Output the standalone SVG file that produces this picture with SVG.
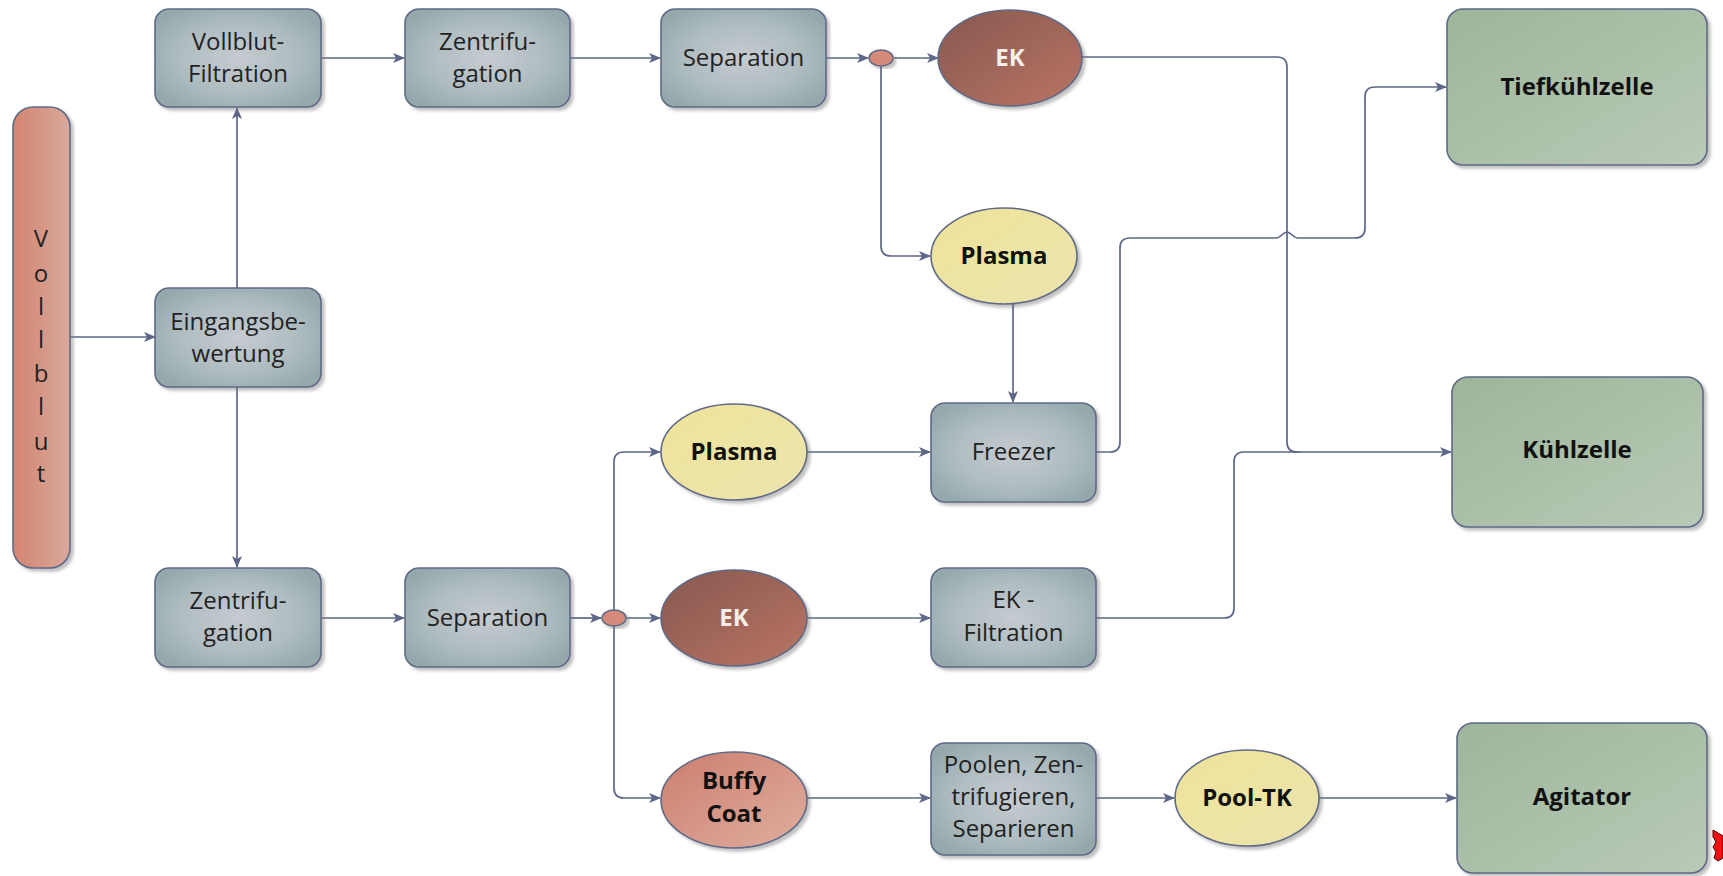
<svg xmlns="http://www.w3.org/2000/svg" width="1723" height="876" viewBox="0 0 1723 876">
<defs>
<radialGradient id="gGrey" cx="50%" cy="50%" r="60%">
<stop offset="0" stop-color="#c6cbd0"/>
<stop offset="0.6" stop-color="#aebcc0"/>
<stop offset="1" stop-color="#95a9ad"/>
</radialGradient>
<linearGradient id="gGreen" x1="0" y1="0" x2="1" y2="1">
<stop offset="0" stop-color="#9db59a"/>
<stop offset="1" stop-color="#b9cab7"/>
</linearGradient>
<linearGradient id="gEK" x1="0" y1="0" x2="1" y2="1">
<stop offset="0" stop-color="#87584f"/>
<stop offset="1" stop-color="#b97464"/>
</linearGradient>
<linearGradient id="gPlasma" x1="0" y1="0" x2="1" y2="1">
<stop offset="0" stop-color="#efe39a"/>
<stop offset="1" stop-color="#ebe4ad"/>
</linearGradient>
<linearGradient id="gBuffy" x1="0" y1="0" x2="1" y2="1">
<stop offset="0" stop-color="#cc7e6e"/>
<stop offset="1" stop-color="#dfae9f"/>
</linearGradient>
<linearGradient id="gPill" x1="0" y1="0" x2="1" y2="0">
<stop offset="0" stop-color="#d3846f"/>
<stop offset="1" stop-color="#d9a99d"/>
</linearGradient>
<filter id="sh" x="-10%" y="-10%" width="125%" height="125%">
<feDropShadow dx="3" dy="3" stdDeviation="1.8" flood-color="#777" flood-opacity="0.45"/>
</filter>
<marker id="arr" viewBox="0 0 12 10" refX="11" refY="5" markerWidth="12" markerHeight="10" markerUnits="userSpaceOnUse" orient="auto">
<path d="M0,0 L12,5 L0,10 L3,5 z" fill="#5d6787"/>
</marker>
<style>
.box{fill:url(#gGrey);stroke:#5f6a86;stroke-width:1.6;filter:url(#sh)}
.green{fill:url(#gGreen);stroke:#5f6a86;stroke-width:1.6;filter:url(#sh)}
.ek{fill:url(#gEK);stroke:#5f6a86;stroke-width:1.6;filter:url(#sh)}
.plasma{fill:url(#gPlasma);stroke:#5f6a86;stroke-width:1.6;filter:url(#sh)}
.buffy{fill:url(#gBuffy);stroke:#5f6a86;stroke-width:1.6;filter:url(#sh)}
.pill{fill:url(#gPill);stroke:#5f6a86;stroke-width:1.6;filter:url(#sh)}
.dot{fill:#d58a79;stroke:#5f6a86;stroke-width:1.4;filter:url(#sh)}
.t{font-family:"Open Sans","Noto Sans",sans-serif;font-size:24px;fill:#222;text-anchor:middle}
.b{font-family:"Open Sans","Noto Sans",sans-serif;font-size:24px;font-weight:bold;fill:#111;text-anchor:middle}
.w{fill:#f4eee8}
.c{fill:none;stroke:#5d6787;stroke-width:1.7}
.ca{fill:none;stroke:#5d6787;stroke-width:1.7;marker-end:url(#arr)}
</style>
</defs>
<rect width="1723" height="876" fill="#ffffff"/>

<g id="connectors">
<path class="ca" d="M70,337 H155"/>
<path class="ca" d="M237,288 V108"/>
<path class="ca" d="M237,387 V567"/>
<path class="ca" d="M321,58 H404"/>
<path class="ca" d="M570,58 H660"/>
<path class="ca" d="M826,58 H868"/>
<path class="ca" d="M894,58 H938"/>
<path class="ca" d="M881,66 V246 Q881,256 891,256 H930"/>
<path class="ca" d="M1013,304 V402"/>
<path class="ca" d="M321,618 H404"/>
<path class="ca" d="M570,618 H601"/>
<path class="ca" d="M614,610 V462 Q614,452 624,452 H660"/>
<path class="ca" d="M627,618 H660"/>
<path class="ca" d="M614,626 V788 Q614,798 624,798 H660"/>
<path class="ca" d="M807,452 H930"/>
<path class="ca" d="M807,618 H930"/>
<path class="ca" d="M807,798 H930"/>
<path class="ca" d="M1096,798 H1174"/>
<path class="ca" d="M1319,798 H1456"/>
<path class="ca" d="M1082,57 H1277 Q1287,57 1287,67 V442 Q1287,452 1297,452 H1451"/>
<path class="c" d="M1096,618 H1224 Q1234,618 1234,608 V462 Q1234,452 1244,452 H1300"/>
<path class="ca" d="M1096,452 H1110 Q1120,452 1120,442 V248 Q1120,238 1130,238 H1276 C1281,238 1283,232 1287,232 C1291,232 1293,238 1298,238 H1355 Q1365,238 1365,228 V97 Q1365,87 1375,87 H1446"/>
</g>

<g id="vollblut">
<rect class="pill" x="13" y="107" width="57" height="461" rx="20"/>
<text class="t" x="41" y="247" font-size="23">V</text>
<text class="t" x="41" y="282" font-size="23">o</text>
<text class="t" x="41" y="315" font-size="23">l</text>
<text class="t" x="41" y="348" font-size="23">l</text>
<text class="t" x="41" y="382" font-size="23">b</text>
<text class="t" x="41" y="415" font-size="23">l</text>
<text class="t" x="41" y="450" font-size="23">u</text>
<text class="t" x="41" y="482" font-size="23">t</text>
</g>

<g id="vollblut-filtration">
<rect class="box" x="155" y="9" width="166" height="98" rx="14"/>
<text class="t" x="238" y="50">Vollblut-</text>
<text class="t" x="238" y="82">Filtration</text>
</g>

<g id="zentrifugation-1">
<rect class="box" x="405" y="9" width="165" height="98" rx="14"/>
<text class="t" x="487.5" y="50">Zentrifu-</text>
<text class="t" x="487.5" y="82">gation</text>
</g>

<g id="separation-1">
<rect class="box" x="661" y="9" width="165" height="98" rx="14"/>
<text class="t" x="743.5" y="66">Separation</text>
</g>

<g id="split-1">
<ellipse class="dot" cx="881" cy="58" rx="12" ry="8"/>
</g>

<g id="ek-1">
<ellipse class="ek" cx="1010" cy="58" rx="72" ry="48"/>
<text class="b w" x="1010" y="66">EK</text>
</g>

<g id="plasma-1">
<ellipse class="plasma" cx="1004" cy="256" rx="73" ry="48"/>
<text class="b" x="1004" y="264">Plasma</text>
</g>

<g id="eingangsbewertung">
<rect class="box" x="155" y="288" width="166" height="99" rx="14"/>
<text class="t" x="238" y="330">Eingangsbe-</text>
<text class="t" x="238" y="362">wertung</text>
</g>

<g id="zentrifugation-2">
<rect class="box" x="155" y="568" width="166" height="99" rx="14"/>
<text class="t" x="238" y="609">Zentrifu-</text>
<text class="t" x="238" y="641">gation</text>
</g>

<g id="separation-2">
<rect class="box" x="405" y="568" width="165" height="99" rx="14"/>
<text class="t" x="487.5" y="626">Separation</text>
</g>

<g id="split-2">
<ellipse class="dot" cx="614" cy="618" rx="12" ry="8"/>
</g>

<g id="plasma-2">
<ellipse class="plasma" cx="734" cy="452" rx="73" ry="48"/>
<text class="b" x="734" y="460">Plasma</text>
</g>

<g id="ek-2">
<ellipse class="ek" cx="734" cy="618" rx="73" ry="48"/>
<text class="b w" x="734" y="626">EK</text>
</g>

<g id="buffy-coat">
<ellipse class="buffy" cx="734" cy="800" rx="73" ry="48"/>
<text class="b" x="734" y="789">Buffy</text>
<text class="b" x="734" y="822">Coat</text>
</g>

<g id="freezer">
<rect class="box" x="931" y="403" width="165" height="99" rx="14"/>
<text class="t" x="1013.5" y="460">Freezer</text>
</g>

<g id="ek-filtration">
<rect class="box" x="931" y="568" width="165" height="99" rx="14"/>
<text class="t" x="1013.5" y="608">EK -</text>
<text class="t" x="1013.5" y="641">Filtration</text>
</g>

<g id="poolen">
<rect class="box" x="931" y="743" width="165" height="112" rx="14"/>
<text class="t" x="1013.5" y="773">Poolen, Zen-</text>
<text class="t" x="1013.5" y="805">trifugieren,</text>
<text class="t" x="1013.5" y="837">Separieren</text>
</g>

<g id="pool-tk">
<ellipse class="plasma" cx="1247" cy="798" rx="72" ry="48"/>
<text class="b" x="1247" y="806">Pool-TK</text>
</g>

<g id="tiefkuehlzelle">
<rect class="green" x="1447" y="9" width="260" height="156" rx="16"/>
<text class="b" x="1577" y="95">Tiefkühlzelle</text>
</g>

<g id="kuehlzelle">
<rect class="green" x="1452" y="377" width="251" height="150" rx="16"/>
<text class="b" x="1577" y="458">Kühlzelle</text>
</g>

<g id="agitator">
<rect class="green" x="1457" y="723" width="250" height="150" rx="16"/>
<text class="b" x="1582" y="805">Agitator</text>
</g>

<path d="M1713,830 L1718,833 L1723,836 L1723,858 L1718,861 L1714,858 L1716,852 L1713,847 L1716,842 L1713,837 z" fill="#ee1111" stroke="#550000" stroke-width="1"/>
</svg>
